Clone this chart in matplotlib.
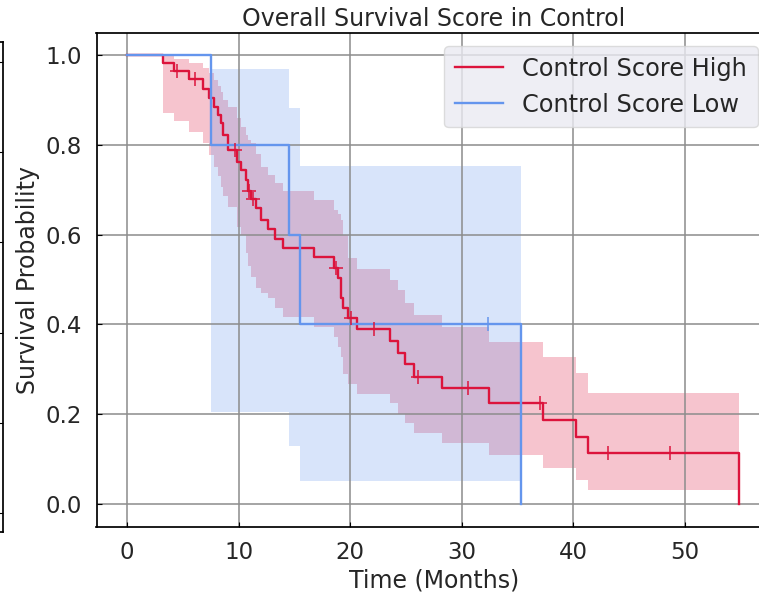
import numpy as np
import matplotlib
matplotlib.use('Agg')
import matplotlib.pyplot as plt

plt.rcParams['font.family'] = 'DejaVu Sans'
plt.rcParams['text.color'] = '#262626'
plt.rcParams['axes.labelcolor'] = '#262626'
plt.rcParams['xtick.color'] = '#262626'
plt.rcParams['ytick.color'] = '#262626'

# Control Score High : KM steps (time, survival, ci low, ci high)
high_t = [0, 3.2, 4.24, 5.59, 6.79, 7.38, 7.76, 8.13, 8.43, 8.58, 9.03, 9.85, 10.22,
          10.67, 10.85, 11.12, 11.57, 12.0, 12.6, 13.3, 13.96, 16.74, 18.56, 18.9,
          19.2, 19.4, 19.8, 20.6, 23.6, 24.3, 24.9, 25.7, 28.2, 32.5, 37.3, 40.3,
          41.3, 54.9]
high_s = [1.0, 0.981, 0.964, 0.946, 0.924, 0.905, 0.884, 0.866, 0.848, 0.822, 0.788,
          0.762, 0.744, 0.722, 0.697, 0.679, 0.659, 0.633, 0.613, 0.591, 0.570,
          0.549, 0.525, 0.503, 0.458, 0.436, 0.414, 0.390, 0.363, 0.336, 0.312,
          0.284, 0.258, 0.226, 0.188, 0.150, 0.114, 0.0]
high_lo = [1.0, 0.870, 0.854, 0.829, 0.805, 0.777, 0.751, 0.730, 0.707, 0.685, 0.662,
           0.618, 0.600, 0.560, 0.530, 0.506, 0.480, 0.470, 0.458, 0.436, 0.417,
           0.394, 0.372, 0.350, 0.327, 0.290, 0.268, 0.246, 0.224, 0.201, 0.180,
           0.159, 0.137, 0.109, 0.080, 0.053, 0.031, 0.031]
high_hi = [1.0, 0.997, 0.990, 0.981, 0.970, 0.960, 0.944, 0.930, 0.918, 0.900, 0.884,
           0.860, 0.840, 0.822, 0.810, 0.803, 0.780, 0.751, 0.733, 0.714, 0.696,
           0.677, 0.655, 0.645, 0.633, 0.600, 0.548, 0.523, 0.499, 0.477, 0.447,
           0.421, 0.395, 0.361, 0.328, 0.291, 0.248, 0.248]
high_cens_t = [4.5, 6.1, 9.7, 10.97, 11.27, 18.7, 20.1, 22.1, 26.1, 30.6, 37.0, 43.1, 48.7]
high_cens_s = [0.964, 0.946, 0.788, 0.697, 0.679, 0.525, 0.414, 0.390, 0.284, 0.258,
               0.226, 0.114, 0.114]

# Control Score Low
low_t = [0, 7.5, 14.5, 15.5, 35.3]
low_s = [1.0, 0.8, 0.6, 0.4, 0.0]
low_lo = [1.0, 0.204, 0.13, 0.051, 0.051]
low_hi = [1.0, 0.968, 0.881, 0.753, 0.753]
low_cens_t = [32.4]
low_cens_s = [0.4]

red = '#DC143C'
blue = '#6495ED'

W, H = 759, 592
fig = plt.figure(figsize=(W / 100, H / 100), dpi=100)

# sliver of the neighbouring panel on the far left
ax0 = fig.add_axes([-0.5, (H - 531.7) / H, 0.5 + 2.7 / W, (531.7 - 42.3) / H])
ax0.set_ylim(-0.041, 1.043)
ax0.set_yticks([0, 0.2, 0.4, 0.6, 0.8, 1.0])
ax0.yaxis.tick_right()
ax0.tick_params(axis='y', direction='in', length=3.5, labelright=False, color='black')
ax0.set_xticks([])
for s in ax0.spines.values():
    s.set_color('black')
    s.set_linewidth(1.25)

left, right, top, bottom = 96.5, 771, 32.5, 526.5
ax = fig.add_axes([left / W, (H - bottom) / H, (right - left) / W, (bottom - top) / H])

ax.fill_between(high_t, high_lo, high_hi, step='post', color=red, alpha=0.25, linewidth=0)
ax.fill_between(low_t, low_lo, low_hi, step='post', color=blue, alpha=0.25, linewidth=0)
ax.step(high_t, high_s, where='post', color=red, lw=1.7, label='Control Score High')
ax.step(low_t, low_s, where='post', color=blue, lw=1.7, label='Control Score Low')
ax.plot(high_cens_t, high_cens_s, ls='none', marker='+', ms=10, mew=1.1, color=red)
ax.plot(low_cens_t, low_cens_s, ls='none', marker='+', ms=10, mew=1.1, color=blue)

ax.set_xlim(-2.75, 57.75)
ax.set_ylim(-0.05, 1.05)
ax.set_xticks([0, 10, 20, 30, 40, 50])
ax.set_yticks([0, 0.2, 0.4, 0.6, 0.8, 1.0])
ax.grid(True, color='#8c8c8c', lw=1.1)
ax.tick_params(direction='in', length=3.5, labelsize=16.5, color='black', pad=10.5)
for s in ax.spines.values():
    s.set_color('black')
    s.set_linewidth(1.25)

ax.set_title('Overall Survival Score in Control', fontsize=17, pad=5)
ax.set_xlabel('Time (Months)', fontsize=17, labelpad=3)
ax.set_ylabel('Survival Probability', fontsize=17, labelpad=4)

leg = ax.legend(loc='upper right', fontsize=17.3, facecolor='#EAEAF2', framealpha=0.8,
                edgecolor='#d5d5d5', handlelength=2.0, borderpad=0.45,
                borderaxespad=0.55)

fig.savefig('out.png', dpi=100)
